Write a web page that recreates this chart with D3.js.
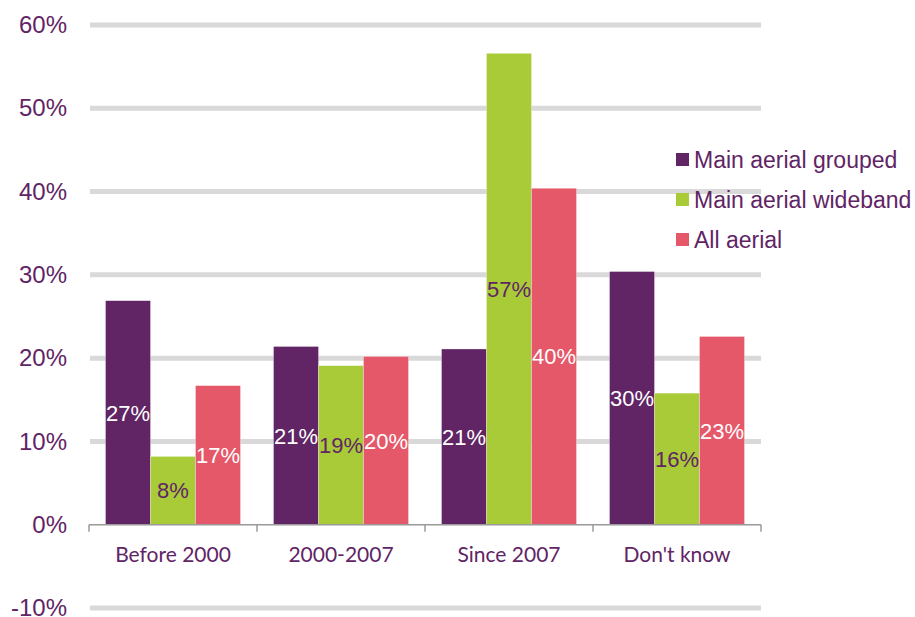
<!DOCTYPE html>
<html>
<head>
<meta charset="utf-8">
<script src="https://cdn.jsdelivr.net/npm/d3@7"></script>
<style>
  body { margin: 0; background: #fff; }
</style>
</head>
<body>
<div id="chart"></div>
<script>
// Chart values
const categories = ["Before 2000", "2000-2007", "Since 2007", "Don't know"];
const seriesNames = ["Main aerial grouped", "Main aerial wideband", "All aerial"];
const groupedValues = [26.9, 21.4, 21.1, 30.4];
const widebandValues = [8.2, 19.1, 56.6, 15.8];
const allAerialValues = [16.7, 20.2, 40.4, 22.6];
const yTicks = [-10, 0, 10, 20, 30, 40, 50, 60];

const colors = ["#612465", "#a8cb37", "#e55869"];
const labelColors = ["#ffffff", "#612465", "#ffffff"];
const textColor = "#612465";

const seriesValues = [groupedValues, widebandValues, allAerialValues];

const width = 915, height = 617;

const svg = d3.select("#chart")
  .append("svg")
  .attr("width", width)
  .attr("height", height);

// Scales
const x = d3.scaleBand()
  .domain(categories)
  .range([89, 761])
  .padding(0);

const x1 = d3.scaleBand()
  .domain(seriesNames)
  .range([0, x.bandwidth()])
  .paddingInner(0)
  .paddingOuter(0.367);

const y = d3.scaleLinear()
  .domain([-10, 60])
  .range([608, 25]);

// Gridlines (no gridline at zero, the axis sits there)
svg.append("g")
  .selectAll("line")
  .data(yTicks.filter(d => d !== 0))
  .join("line")
  .attr("x1", 90)
  .attr("x2", 761)
  .attr("y1", d => y(d))
  .attr("y2", d => y(d))
  .attr("stroke", "#d9d9d9")
  .attr("stroke-width", 5);

// Y axis labels
const yAxis = svg.append("g")
  .attr("transform", "translate(67,0)")
  .call(d3.axisLeft(y).tickValues(yTicks).tickSize(0).tickPadding(0).tickFormat(d => d + "%"));
yAxis.select(".domain").remove();
yAxis.selectAll("text")
  .attr("fill", textColor)
  .style("font-family", "'Liberation Sans', Arial, sans-serif")
  .style("font-size", "24px");

// Bars
const groups = svg.append("g")
  .selectAll("g")
  .data(categories)
  .join("g")
  .attr("transform", d => `translate(${x(d)},0)`);

const barData = (c, i) => seriesNames.map((s, j) => ({ series: s, idx: j, value: seriesValues[j][i] }));

groups.selectAll("rect")
  .data(barData)
  .join("rect")
  .attr("x", d => x1(d.series))
  .attr("width", x1.bandwidth())
  .attr("y", d => y(d.value))
  .attr("height", d => y(0) - y(d.value))
  .attr("fill", d => colors[d.idx])
  .attr("stroke", "#ffffff")
  .attr("stroke-opacity", 0.5)
  .attr("stroke-width", 0.6);

// Data labels centred in each bar
groups.selectAll("text.value")
  .data(barData)
  .join("text")
  .attr("class", "value")
  .attr("x", d => x1(d.series) + x1.bandwidth() / 2)
  .attr("y", d => (y(d.value) + y(0)) / 2)
  .attr("dy", "0.36em")
  .attr("text-anchor", "middle")
  .attr("fill", d => labelColors[d.idx])
  .style("font-family", "'Liberation Sans', Arial, sans-serif")
  .style("font-size", "22px")
  .text(d => Math.round(d.value) + "%");

// X axis line with ticks at the category boundaries
const xAxisG = svg.append("g");
xAxisG.append("line")
  .attr("x1", x.range()[0])
  .attr("x2", x.range()[1])
  .attr("y1", y(0))
  .attr("y2", y(0))
  .attr("stroke", "#9a9a9a")
  .attr("stroke-width", 1.5);

const boundaries = categories.map(c => x(c)).concat([x.range()[1]]);
xAxisG.selectAll("line.tick")
  .data(boundaries)
  .join("line")
  .attr("class", "tick")
  .attr("x1", d => d)
  .attr("x2", d => d)
  .attr("y1", y(0))
  .attr("y2", y(0) + 7)
  .attr("stroke", "#9a9a9a")
  .attr("stroke-width", 1.5);

// Category labels
const xAxis = svg.append("g")
  .attr("transform", `translate(0,${y(0)})`)
  .call(d3.axisBottom(x).tickSize(0).tickPadding(22));
xAxis.select(".domain").remove();
xAxis.selectAll("text")
  .attr("fill", textColor)
  .style("font-family", "Lato, 'Open Sans', sans-serif")
  .style("font-size", "21px");

// Legend
const legend = svg.append("g")
  .attr("transform", "translate(676,160)");

const legendItems = legend.selectAll("g")
  .data(seriesNames)
  .join("g")
  .attr("transform", (d, i) => `translate(0,${i * 40})`);

legendItems.append("rect")
  .attr("x", 0)
  .attr("y", -7)
  .attr("width", 13)
  .attr("height", 13)
  .attr("fill", (d, i) => colors[i]);

legendItems.append("text")
  .attr("x", 18)
  .attr("y", 0)
  .attr("dy", "0.36em")
  .attr("fill", textColor)
  .style("font-family", "'Liberation Sans', Arial, sans-serif")
  .style("font-size", "23px")
  .text(d => d);
</script>
</body>
</html>
